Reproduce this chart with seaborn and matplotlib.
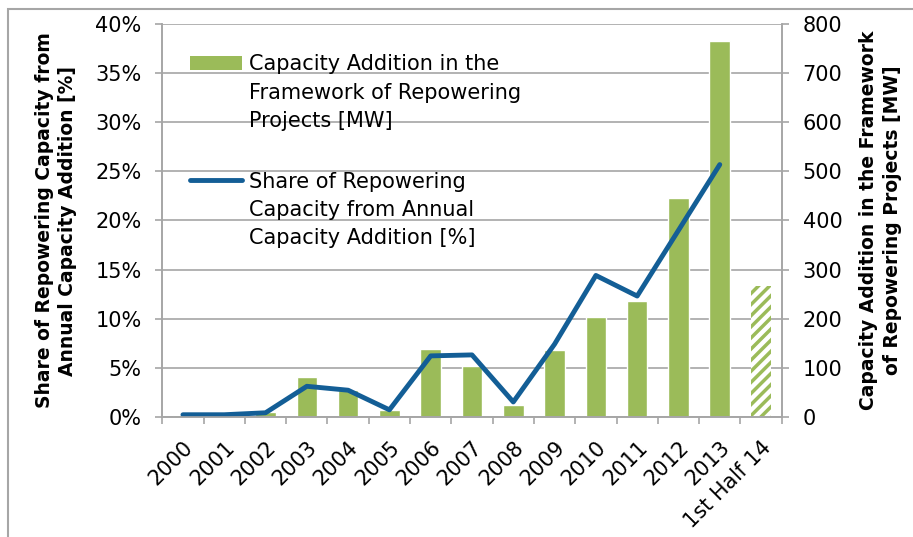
import numpy as np
import pandas as pd
import matplotlib
matplotlib.use("Agg")
import matplotlib.pyplot as plt
import seaborn as sns
from matplotlib.patches import Patch, Rectangle
from matplotlib.lines import Line2D
from matplotlib.ticker import FuncFormatter

# --- data ---
years = ["2000", "2001", "2002", "2003", "2004", "2005", "2006", "2007",
         "2008", "2009", "2010", "2011", "2012", "2013", "1st Half 14"]
capacity_mw = [4, 1, 10, 80, 55, 13, 138, 104, 23, 135, 204, 236, 446, 766, 266]
share_pct = [0.2, 0.2, 0.4, 3.1, 2.7, 0.7, 6.2, 6.3, 1.5, 7.4, 14.4, 12.3, 19.0, 25.7]

green = "#9BBB59"
blue = "#135E96"
grid_c = "#A6A6A6"

sns.set_style("white")
plt.rcParams["font.family"] = ["DejaVu Sans"]
plt.rcParams["text.color"] = "black"
plt.rcParams["axes.labelcolor"] = "black"
plt.rcParams["xtick.color"] = "black"
plt.rcParams["ytick.color"] = "black"
plt.rcParams["hatch.linewidth"] = 2.5
plt.rcParams["hatch.color"] = green

df_bar = pd.DataFrame({"year": years, "mw": capacity_mw})
df_line = pd.DataFrame({"year": years[:len(share_pct)], "share": share_pct})

fig = plt.figure(figsize=(9.13, 5.37), dpi=100)
ax = fig.add_axes([162.3 / 913, 1 - 416.7 / 537, (781.7 - 162.3) / 913, (416.7 - 24.3) / 537])
ax2 = ax.twinx()

# bars (MW, right scale)
sns.barplot(data=df_bar, x="year", y="mw", color=green, width=0.5, saturation=1, ax=ax)
last = ax.patches[-1]
last.set_facecolor("white")
last.set_edgecolor(green)
last.set_hatch("///")
last.set_linewidth(0)

# line (%, left scale)
sns.lineplot(data=df_line, x="year", y="share", color=blue, linewidth=3.5, ax=ax2, sort=False)

ax.set_ylim(0, 800)
ax.set_yticks(range(0, 801, 100))
ax.yaxis.tick_right()
ax.yaxis.set_label_position("right")
ax.set_ylabel("Capacity Addition in the Framework\nof Repowering Projects [MW]",
              fontsize=13.5, fontweight="bold", labelpad=12, linespacing=1.3)
ax.set_xlabel("")
ax.grid(axis="y", color=grid_c, linewidth=1.2)
ax.set_axisbelow(True)
ax.set_xlim(-0.5, len(years) - 0.5)
ax.set_xticks(np.arange(-0.5, len(years), 1), minor=True)
ax.set_xticks(range(len(years)))
ax.set_xticklabels(years, rotation=45, ha="right", rotation_mode="anchor", fontsize=15)
ax.tick_params(axis="x", which="major", length=0, pad=15)
ax.tick_params(axis="x", which="minor", length=5, color=grid_c, width=1.2, bottom=True)
ax.tick_params(axis="y", labelsize=15, length=5, color=grid_c, width=1.2, direction="out", pad=10)

ax2.set_ylim(0, 40)
ax2.set_yticks(range(0, 41, 5))
ax2.yaxis.set_major_formatter(FuncFormatter(lambda v, p: f"{int(v)}%"))
ax2.yaxis.tick_left()
ax2.yaxis.set_label_position("left")
ax2.set_ylabel("Share of Repowering Capacity from\nAnnual Capacity Addition [%]",
               fontsize=13.5, fontweight="bold", labelpad=13, linespacing=1.3)
ax2.set_xlabel("")
ax2.tick_params(axis="y", labelsize=15, length=5, color=grid_c, width=1.2, direction="out", pad=10)
ax2.set_xlim(-0.5, len(years) - 0.5)

for a in (ax, ax2):
    a.spines["top"].set_visible(False)
    for side in ("left", "right", "bottom"):
        a.spines[side].set_color(grid_c)
        a.spines[side].set_linewidth(1.2)

# legend: handle next to the first line of each wrapped label
blank = Patch(visible=False)
handles = [Patch(facecolor=green, edgecolor="none"), blank, blank, blank,
           Line2D([0], [0], color=blue, linewidth=3.5), blank, blank]
labels = ["Capacity Addition in the", "Framework of Repowering", "Projects [MW]", " ",
          "Share of Repowering", "Capacity from Annual", "Capacity Addition [%]"]
leg = ax2.legend(handles, labels, loc="upper left", bbox_to_anchor=(0.025, 0.955), frameon=False,
                 fontsize=15, labelspacing=0.4, handlelength=2.5, handletextpad=0.3,
                 borderaxespad=0.2)
leg.get_texts()[3].set_fontsize(18)

# outer frame of the figure
fig.patches.append(Rectangle((8 / 913, -0.01), 1.0, 1 - 9 / 537 + 0.01, transform=fig.transFigure,
                             fill=False, edgecolor="#A6A6A6", linewidth=1.5))

fig.savefig("out.png", dpi=100)
